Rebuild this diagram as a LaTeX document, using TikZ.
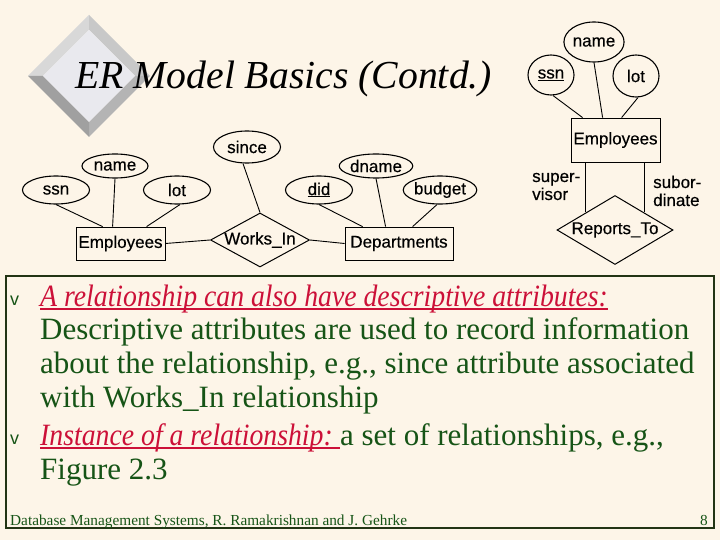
\documentclass[tikz,border=0pt]{standalone}
\usepackage{fontspec}
\setmainfont{Liberation Serif}
\newfontfamily\diagfont[FakeBold=0.4]{Liberation Sans}
\newfontfamily\bulfont{Liberation Sans}
\usetikzlibrary{shapes.geometric}
\definecolor{bg}{RGB}{253,245,232}
\definecolor{txtgreen}{RGB}{22,84,22}
\definecolor{txtred}{RGB}{204,16,56}
\definecolor{framec}{RGB}{34,52,20}
\definecolor{bevTL}{RGB}{216,216,216}
\definecolor{bevTR}{RGB}{200,200,200}
\definecolor{bevBR}{RGB}{180,180,180}
\definecolor{bevBL}{RGB}{160,160,160}
\definecolor{bevF}{RGB}{233,233,238}
\begin{document}
\begin{tikzpicture}[x=1pt,y=-1pt,
  dfont/.style={font=\diagfont\fontsize{17}{18}\selectfont},
  attr/.style={ellipse,draw,line width=1.1pt,inner sep=0pt,dfont},
  ent/.style={rectangle,draw,line width=0.8pt,inner sep=0pt,dfont},
  rel/.style={diamond,draw,line width=1pt,inner sep=0pt,dfont},
  conn/.style={line width=0.9pt},
  lbl/.style={anchor=base west,inner sep=0pt,dfont},
  body/.style={anchor=base west,inner sep=0pt,text=txtgreen,font=\fontsize{31}{34}\selectfont},
  emph/.style={anchor=base west,inner sep=0pt,text=txtred,font=\itshape\fontsize{31}{34}\selectfont},
  bul/.style={anchor=base west,inner sep=0pt,text=txtgreen,font=\bulfont\fontsize{18}{18}\selectfont},
  uline/.style={txtred,line width=1.6pt},
  foot/.style={inner sep=0pt,text=txtgreen,font=\fontsize{15.3}{17}\selectfont}
]
\useasboundingbox (0,0) rectangle (720,540);
\fill[bg] (0,0) rectangle (720,540);

% logo diamond
\fill[bevTL] (28,76) -- (89,15) -- (89,30) -- (43,76) -- cycle;
\fill[bevTR] (89,15) -- (150,76) -- (135,76) -- (89,30) -- cycle;
\fill[bevBR] (150,76) -- (89,137) -- (89,122) -- (135,76) -- cycle;
\fill[bevBL] (89,137) -- (28,76) -- (43,76) -- (89,122) -- cycle;
\fill[bevF] (89,30) -- (135,76) -- (89,122) -- (43,76) -- cycle;

% title
\node[anchor=base west,inner sep=0pt,font=\itshape\fontsize{39.7}{44}\selectfont] (title) at (75,89) {ER Model Basics (Contd.)};

% left diagram
\node[ent,minimum width=89pt,minimum height=33pt] (empL) at (120.5,243.5) {Employees};
\node[ent,minimum width=108pt,minimum height=33pt] (dept) at (399,243.5) {Departments};
\node[rel,aspect=1.83,minimum width=99pt,minimum height=54pt] (wi) at (260,240) {\makebox[0pt]{Works\_In}};
\node[attr,minimum width=67pt,minimum height=28pt] (ssnL) at (56,190) {ssn};
\node[attr,minimum width=66pt,minimum height=24pt] (nameL) at (115,166) {name};
\node[attr,minimum width=67pt,minimum height=28pt] (lotL) at (177,190) {lot};
\node[attr,minimum width=67pt,minimum height=32pt] (sinceL) at (247,147) {since};
\node[attr,minimum width=67pt,minimum height=28pt] (didL) at (319,190) {\underline{did}};
\node[attr,minimum width=62pt,minimum height=24pt] (dnameL) at (376,166) {dname};
\node[attr,minimum width=66pt,minimum height=28pt] (budgetL) at (440,190) {budget};

\draw[conn] (ssnL.south) -- ([xshift=27pt]empL.north west);
\draw[conn] (nameL.south) -- ([xshift=37pt]empL.north west);
\draw[conn] ([xshift=3pt]lotL.south) -- ([xshift=71pt]empL.north west);
\draw[conn] ([xshift=-4pt]sinceL.south) -- (wi.north);
\draw[conn] (didL.south) -- ([xshift=18pt]dept.north west);
\draw[conn] (dnameL.south) -- ([xshift=41pt]dept.north west);
\draw[conn] ([xshift=-3pt]budgetL.south) -- ([xshift=68pt]dept.north west);
\draw[conn] (empL.east) -- (wi.west);
\draw[conn] (wi.east) -- (dept.west);

% right diagram
\node[attr,minimum width=46pt,minimum height=40pt] (nameR) at (594,42) {name};
\node[attr,minimum width=46pt,minimum height=40pt] (ssnR) at (551,75) {\underline{ssn}};
\node[attr,minimum width=46pt,minimum height=42pt] (lotR) at (636,76) {lot};
\node[ent,minimum width=89pt,minimum height=44pt] (empR) at (615.5,140) {Employees};
\node[rel,aspect=1.68,minimum width=116pt,minimum height=69pt] (rt) at (615,230) {\makebox[0pt]{Reports\_To}};

\draw[conn] ([xshift=2pt]ssnR.south) -- ([xshift=12pt]empR.north west);
\draw[conn] (nameR.south) -- ([xshift=32pt]empR.north west);
\draw[conn] ([xshift=2pt]lotR.south) -- ([xshift=51pt]empR.north west);
\draw[conn] (rt.north west |- empR.south) -- (rt.north west);
\draw[conn] (rt.north east |- empR.south) -- (rt.north east);

\node[lbl] (sup1) at (532,182) {super-};
\node[lbl] (sup2) at (532,200) {visor};
\node[lbl] (sub1) at (653,188) {subor-};
\node[lbl] (sub2) at (653,206) {dinate};

% frame
\draw[framec,line width=1.1pt] (6,276) rectangle (714,528);

% text
\node[bul] (bul1) at (10,305) {v};
\node[emph] (l1) at (40,306) {\scalebox{0.895}[1]{A relationship can also have descriptive attributes:}};
\draw[uline] ([yshift=-3pt]l1.base west) -- ([yshift=-3pt]l1.base east);
\node[body] (l2) at (40,339) {Descriptive attributes are used to record information};
\node[body] (l3) at (40,373) {about the relationship, e.g., since attribute associated};
\node[body] (l4) at (40,407) {with Works\_In relationship};
\node[bul] (bul2) at (10,444) {v};
\node[emph] (l5a) at (40,445) {\scalebox{0.895}[1]{Instance of a relationship:\ }};
\draw[uline] ([yshift=-3pt]l5a.base west) -- ([yshift=-3pt]l5a.base east);
\node[body] (l5b) at (l5a.base east) {a set of relationships, e.g.,};
\node[body] (l6) at (40,479) {Figure 2.3};

\node[foot,anchor=base west] (ft) at (10,525) {Database Management Systems, R. Ramakrishnan and J. Gehrke};
\node[foot,anchor=base east] (pg) at (708,525) {8};
\end{tikzpicture}
\end{document}
